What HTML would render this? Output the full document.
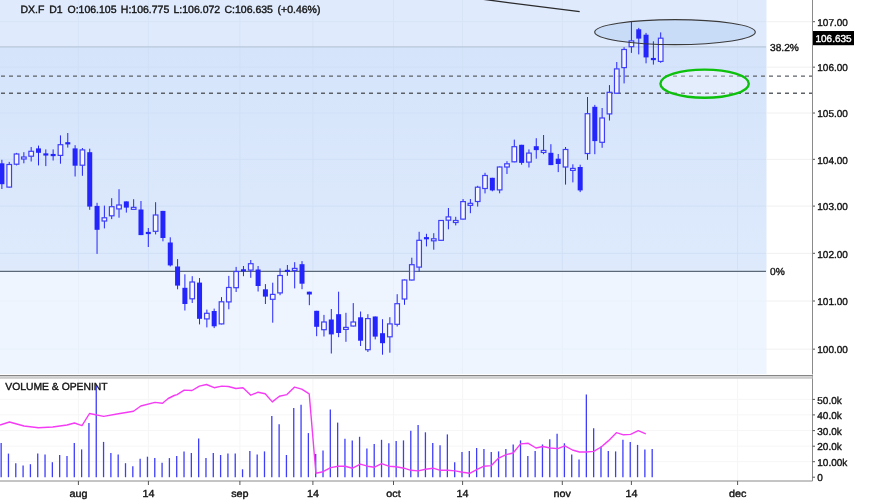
<!DOCTYPE html><html><head><meta charset="utf-8"><style>html,body{margin:0;padding:0;background:#fff;}svg{display:block;will-change:transform;}text{font-family:"Liberation Sans",sans-serif;fill:#141414;stroke:#141414;stroke-width:0.38px;text-rendering:geometricPrecision;}</style></head><body>
<svg width="875" height="503" viewBox="0 0 875 503">
<rect x="0" y="0" width="875" height="503" fill="#ffffff"/>
<rect x="0" y="0" width="766.5" height="46.5" fill="#dfebfd"/>
<defs><linearGradient id="mg" x1="0" y1="0" x2="0" y2="1"><stop offset="0" stop-color="#d5e4fb"/><stop offset="1" stop-color="#deeafc"/></linearGradient></defs>
<rect x="0" y="46.5" width="766.5" height="224.8" fill="url(#mg)"/>
<rect x="0" y="271.3" width="766.5" height="102.7" fill="#eef5fe"/>
<line x1="78.4" y1="0" x2="78.4" y2="46.5" stroke="#d7e4f6" stroke-width="1"/>
<line x1="78.4" y1="46.5" x2="78.4" y2="271.3" stroke="#d1e0f6" stroke-width="1"/>
<line x1="78.4" y1="271.3" x2="78.4" y2="374" stroke="#e8f0fa" stroke-width="1"/>
<line x1="78.4" y1="379" x2="78.4" y2="481" stroke="#f5f5f5" stroke-width="1"/>
<line x1="148.4" y1="0" x2="148.4" y2="46.5" stroke="#d7e4f6" stroke-width="1"/>
<line x1="148.4" y1="46.5" x2="148.4" y2="271.3" stroke="#d1e0f6" stroke-width="1"/>
<line x1="148.4" y1="271.3" x2="148.4" y2="374" stroke="#e8f0fa" stroke-width="1"/>
<line x1="148.4" y1="379" x2="148.4" y2="481" stroke="#f5f5f5" stroke-width="1"/>
<line x1="239.9" y1="0" x2="239.9" y2="46.5" stroke="#d7e4f6" stroke-width="1"/>
<line x1="239.9" y1="46.5" x2="239.9" y2="271.3" stroke="#d1e0f6" stroke-width="1"/>
<line x1="239.9" y1="271.3" x2="239.9" y2="374" stroke="#e8f0fa" stroke-width="1"/>
<line x1="239.9" y1="379" x2="239.9" y2="481" stroke="#f5f5f5" stroke-width="1"/>
<line x1="312.9" y1="0" x2="312.9" y2="46.5" stroke="#d7e4f6" stroke-width="1"/>
<line x1="312.9" y1="46.5" x2="312.9" y2="271.3" stroke="#d1e0f6" stroke-width="1"/>
<line x1="312.9" y1="271.3" x2="312.9" y2="374" stroke="#e8f0fa" stroke-width="1"/>
<line x1="312.9" y1="379" x2="312.9" y2="481" stroke="#f5f5f5" stroke-width="1"/>
<line x1="393.5" y1="0" x2="393.5" y2="46.5" stroke="#d7e4f6" stroke-width="1"/>
<line x1="393.5" y1="46.5" x2="393.5" y2="271.3" stroke="#d1e0f6" stroke-width="1"/>
<line x1="393.5" y1="271.3" x2="393.5" y2="374" stroke="#e8f0fa" stroke-width="1"/>
<line x1="393.5" y1="379" x2="393.5" y2="481" stroke="#f5f5f5" stroke-width="1"/>
<line x1="462.6" y1="0" x2="462.6" y2="46.5" stroke="#d7e4f6" stroke-width="1"/>
<line x1="462.6" y1="46.5" x2="462.6" y2="271.3" stroke="#d1e0f6" stroke-width="1"/>
<line x1="462.6" y1="271.3" x2="462.6" y2="374" stroke="#e8f0fa" stroke-width="1"/>
<line x1="462.6" y1="379" x2="462.6" y2="481" stroke="#f5f5f5" stroke-width="1"/>
<line x1="562.3" y1="0" x2="562.3" y2="46.5" stroke="#d7e4f6" stroke-width="1"/>
<line x1="562.3" y1="46.5" x2="562.3" y2="271.3" stroke="#d1e0f6" stroke-width="1"/>
<line x1="562.3" y1="271.3" x2="562.3" y2="374" stroke="#e8f0fa" stroke-width="1"/>
<line x1="562.3" y1="379" x2="562.3" y2="481" stroke="#f5f5f5" stroke-width="1"/>
<line x1="631.4" y1="0" x2="631.4" y2="46.5" stroke="#d7e4f6" stroke-width="1"/>
<line x1="631.4" y1="46.5" x2="631.4" y2="271.3" stroke="#d1e0f6" stroke-width="1"/>
<line x1="631.4" y1="271.3" x2="631.4" y2="374" stroke="#e8f0fa" stroke-width="1"/>
<line x1="631.4" y1="379" x2="631.4" y2="481" stroke="#f5f5f5" stroke-width="1"/>
<line x1="737.6" y1="0" x2="737.6" y2="46.5" stroke="#d7e4f6" stroke-width="1"/>
<line x1="737.6" y1="46.5" x2="737.6" y2="271.3" stroke="#d1e0f6" stroke-width="1"/>
<line x1="737.6" y1="271.3" x2="737.6" y2="374" stroke="#e8f0fa" stroke-width="1"/>
<line x1="737.6" y1="379" x2="737.6" y2="481" stroke="#f5f5f5" stroke-width="1"/>
<line x1="0" y1="349.17" x2="766" y2="349.17" stroke="#e9f1fb" stroke-width="1"/>
<line x1="766" y1="349.17" x2="812" y2="349.17" stroke="#f0f0f0" stroke-width="1"/>
<line x1="812.5" y1="349.17" x2="815" y2="349.17" stroke="#555" stroke-width="1"/>
<text x="817.3" y="353.37" font-size="10">100.00</text>
<line x1="0" y1="301.01" x2="766" y2="301.01" stroke="#e9f1fb" stroke-width="1"/>
<line x1="766" y1="301.01" x2="812" y2="301.01" stroke="#f0f0f0" stroke-width="1"/>
<line x1="812.5" y1="301.01" x2="815" y2="301.01" stroke="#555" stroke-width="1"/>
<text x="817.3" y="305.21" font-size="10">101.00</text>
<line x1="0" y1="253.32" x2="766" y2="253.32" stroke="#d1e0f6" stroke-width="1"/>
<line x1="766" y1="253.32" x2="812" y2="253.32" stroke="#f0f0f0" stroke-width="1"/>
<line x1="812.5" y1="253.32" x2="815" y2="253.32" stroke="#555" stroke-width="1"/>
<text x="817.3" y="257.52" font-size="10">102.00</text>
<line x1="0" y1="206.1" x2="766" y2="206.1" stroke="#d1e0f6" stroke-width="1"/>
<line x1="766" y1="206.1" x2="812" y2="206.1" stroke="#f0f0f0" stroke-width="1"/>
<line x1="812.5" y1="206.1" x2="815" y2="206.1" stroke="#555" stroke-width="1"/>
<text x="817.3" y="210.3" font-size="10">103.00</text>
<line x1="0" y1="159.34" x2="766" y2="159.34" stroke="#d1e0f6" stroke-width="1"/>
<line x1="766" y1="159.34" x2="812" y2="159.34" stroke="#f0f0f0" stroke-width="1"/>
<line x1="812.5" y1="159.34" x2="815" y2="159.34" stroke="#555" stroke-width="1"/>
<text x="817.3" y="163.54" font-size="10">104.00</text>
<line x1="0" y1="113.02" x2="766" y2="113.02" stroke="#d1e0f6" stroke-width="1"/>
<line x1="766" y1="113.02" x2="812" y2="113.02" stroke="#f0f0f0" stroke-width="1"/>
<line x1="812.5" y1="113.02" x2="815" y2="113.02" stroke="#555" stroke-width="1"/>
<text x="817.3" y="117.22" font-size="10">105.00</text>
<line x1="0" y1="67.15" x2="766" y2="67.15" stroke="#d1e0f6" stroke-width="1"/>
<line x1="766" y1="67.15" x2="812" y2="67.15" stroke="#f0f0f0" stroke-width="1"/>
<line x1="812.5" y1="67.15" x2="815" y2="67.15" stroke="#555" stroke-width="1"/>
<text x="817.3" y="71.35" font-size="10">106.00</text>
<line x1="0" y1="21.7" x2="766" y2="21.7" stroke="#d7e4f6" stroke-width="1"/>
<line x1="766" y1="21.7" x2="812" y2="21.7" stroke="#f0f0f0" stroke-width="1"/>
<line x1="812.5" y1="21.7" x2="815" y2="21.7" stroke="#555" stroke-width="1"/>
<text x="817.3" y="25.9" font-size="10">107.00</text>
<line x1="0" y1="46.8" x2="766" y2="46.8" stroke="#b8c7da" stroke-width="1.35"/>
<line x1="0" y1="270.1" x2="766" y2="270.1" stroke="#e4eefc" stroke-width="1"/>
<line x1="0" y1="271.4" x2="766" y2="271.4" stroke="#5a6877" stroke-width="1.2"/>
<text x="770" y="51" font-size="10.2">38.2%</text>
<text x="770" y="275.3" font-size="10.2">0%</text>
<line x1="0" y1="76.1" x2="812" y2="76.1" stroke="#5c6067" stroke-width="1.4" stroke-dasharray="4 4" stroke-dashoffset="-1"/>
<line x1="0" y1="93.2" x2="812" y2="93.2" stroke="#5c6067" stroke-width="1.4" stroke-dasharray="4 4" stroke-dashoffset="-1"/>
<ellipse cx="704.6" cy="83.7" rx="44.2" ry="14.1" fill="rgba(255,255,255,0.32)" stroke="#0cc00c" stroke-width="2.4"/>
<ellipse cx="675" cy="32.1" rx="80.3" ry="12.5" fill="#c9dcf7"/>
<line x1="1.9" y1="159.8" x2="1.9" y2="189" stroke="#2424fc" stroke-width="1"/>
<rect x="-0.6" y="163.3" width="5" height="20.9" fill="#2424fc"/>
<line x1="9.22" y1="161.9" x2="9.22" y2="164.5" stroke="#2424fc" stroke-width="1"/>
<line x1="9.22" y1="187.1" x2="9.22" y2="187.6" stroke="#2424fc" stroke-width="1"/>
<rect x="6.92" y="164.5" width="4.6" height="22.6" fill="rgba(255,255,255,0.72)" stroke="#3e3efb" stroke-width="1.2"/>
<line x1="16.54" y1="152.9" x2="16.54" y2="154" stroke="#2424fc" stroke-width="1"/>
<line x1="16.54" y1="164.2" x2="16.54" y2="165.4" stroke="#2424fc" stroke-width="1"/>
<rect x="14.24" y="154" width="4.6" height="10.2" fill="rgba(255,255,255,0.72)" stroke="#3e3efb" stroke-width="1.2"/>
<line x1="23.86" y1="152.2" x2="23.86" y2="157" stroke="#2424fc" stroke-width="1"/>
<line x1="23.86" y1="159" x2="23.86" y2="163.3" stroke="#2424fc" stroke-width="1"/>
<rect x="21.56" y="157" width="4.6" height="2" fill="rgba(255,255,255,0.72)" stroke="#3e3efb" stroke-width="1.2"/>
<line x1="31.18" y1="147" x2="31.18" y2="151.3" stroke="#2424fc" stroke-width="1"/>
<line x1="31.18" y1="156.2" x2="31.18" y2="161.5" stroke="#2424fc" stroke-width="1"/>
<rect x="28.88" y="151.3" width="4.6" height="4.9" fill="rgba(255,255,255,0.72)" stroke="#3e3efb" stroke-width="1.2"/>
<line x1="38.5" y1="145.6" x2="38.5" y2="165.4" stroke="#2424fc" stroke-width="1"/>
<rect x="36" y="148.4" width="5" height="4.4" fill="#2424fc"/>
<line x1="45.82" y1="149.4" x2="45.82" y2="166.1" stroke="#2424fc" stroke-width="1"/>
<rect x="43.32" y="153.35" width="5" height="2.2" fill="#2424fc"/>
<line x1="53.14" y1="149.4" x2="53.14" y2="160.5" stroke="#2424fc" stroke-width="1"/>
<rect x="50.64" y="153.95" width="5" height="2.2" fill="#2424fc"/>
<line x1="60.46" y1="135.4" x2="60.46" y2="144.7" stroke="#2424fc" stroke-width="1"/>
<line x1="60.46" y1="155.4" x2="60.46" y2="163.7" stroke="#2424fc" stroke-width="1"/>
<rect x="58.16" y="144.7" width="4.6" height="10.7" fill="rgba(255,255,255,0.72)" stroke="#3e3efb" stroke-width="1.2"/>
<line x1="67.78" y1="133" x2="67.78" y2="147.6" stroke="#2424fc" stroke-width="1"/>
<rect x="65.28" y="142.2" width="5" height="2.2" fill="#2424fc"/>
<line x1="75.1" y1="145.2" x2="75.1" y2="176.5" stroke="#2424fc" stroke-width="1"/>
<rect x="72.6" y="148.4" width="5" height="17.3" fill="#2424fc"/>
<line x1="82.42" y1="148" x2="82.42" y2="149.9" stroke="#2424fc" stroke-width="1"/>
<line x1="82.42" y1="165.2" x2="82.42" y2="175.8" stroke="#2424fc" stroke-width="1"/>
<rect x="80.12" y="149.9" width="4.6" height="15.3" fill="rgba(255,255,255,0.72)" stroke="#3e3efb" stroke-width="1.2"/>
<line x1="89.74" y1="148.7" x2="89.74" y2="209.8" stroke="#2424fc" stroke-width="1"/>
<rect x="87.24" y="152.2" width="5" height="54.4" fill="#2424fc"/>
<line x1="97.06" y1="202.8" x2="97.06" y2="253.9" stroke="#2424fc" stroke-width="1"/>
<rect x="94.56" y="205.9" width="5" height="23.9" fill="#2424fc"/>
<line x1="104.38" y1="205.6" x2="104.38" y2="217.8" stroke="#2424fc" stroke-width="1"/>
<line x1="104.38" y1="221" x2="104.38" y2="228.4" stroke="#2424fc" stroke-width="1"/>
<rect x="102.08" y="217.8" width="4.6" height="3.2" fill="rgba(255,255,255,0.72)" stroke="#3e3efb" stroke-width="1.2"/>
<line x1="111.7" y1="198.2" x2="111.7" y2="206.7" stroke="#2424fc" stroke-width="1"/>
<line x1="111.7" y1="215.8" x2="111.7" y2="219.1" stroke="#2424fc" stroke-width="1"/>
<rect x="109.4" y="206.7" width="4.6" height="9.1" fill="rgba(255,255,255,0.72)" stroke="#3e3efb" stroke-width="1.2"/>
<line x1="119.02" y1="189.2" x2="119.02" y2="205" stroke="#2424fc" stroke-width="1"/>
<line x1="119.02" y1="208.9" x2="119.02" y2="217.7" stroke="#2424fc" stroke-width="1"/>
<rect x="116.72" y="205" width="4.6" height="3.9" fill="rgba(255,255,255,0.72)" stroke="#3e3efb" stroke-width="1.2"/>
<line x1="126.34" y1="201.4" x2="126.34" y2="212.6" stroke="#2424fc" stroke-width="1"/>
<rect x="123.84" y="201.4" width="5" height="6.2" fill="#2424fc"/>
<line x1="133.66" y1="199.2" x2="133.66" y2="207.35" stroke="#2424fc" stroke-width="1"/>
<line x1="133.66" y1="209.35" x2="133.66" y2="209.4" stroke="#2424fc" stroke-width="1"/>
<rect x="131.36" y="207.35" width="4.6" height="2" fill="rgba(255,255,255,0.72)" stroke="#3e3efb" stroke-width="1.2"/>
<line x1="140.98" y1="201" x2="140.98" y2="235.1" stroke="#2424fc" stroke-width="1"/>
<rect x="138.48" y="209.5" width="5" height="25.6" fill="#2424fc"/>
<line x1="148.3" y1="228" x2="148.3" y2="247" stroke="#2424fc" stroke-width="1"/>
<rect x="145.8" y="231.9" width="5" height="2.2" fill="#2424fc"/>
<line x1="155.62" y1="202.2" x2="155.62" y2="215" stroke="#2424fc" stroke-width="1"/>
<line x1="155.62" y1="231.3" x2="155.62" y2="234.4" stroke="#2424fc" stroke-width="1"/>
<rect x="153.32" y="215" width="4.6" height="16.3" fill="rgba(255,255,255,0.72)" stroke="#3e3efb" stroke-width="1.2"/>
<line x1="162.94" y1="210.9" x2="162.94" y2="241.3" stroke="#2424fc" stroke-width="1"/>
<rect x="160.44" y="210.9" width="5" height="27.1" fill="#2424fc"/>
<line x1="170.26" y1="237.3" x2="170.26" y2="266.5" stroke="#2424fc" stroke-width="1"/>
<rect x="167.76" y="242.5" width="5" height="22.9" fill="#2424fc"/>
<line x1="177.58" y1="259.1" x2="177.58" y2="289.3" stroke="#2424fc" stroke-width="1"/>
<rect x="175.08" y="266.5" width="5" height="19.1" fill="#2424fc"/>
<line x1="184.9" y1="274.3" x2="184.9" y2="310.5" stroke="#2424fc" stroke-width="1"/>
<rect x="182.4" y="287.8" width="5" height="16.2" fill="#2424fc"/>
<line x1="192.22" y1="276.2" x2="192.22" y2="282" stroke="#2424fc" stroke-width="1"/>
<line x1="192.22" y1="298.8" x2="192.22" y2="303" stroke="#2424fc" stroke-width="1"/>
<rect x="189.92" y="282" width="4.6" height="16.8" fill="rgba(255,255,255,0.72)" stroke="#3e3efb" stroke-width="1.2"/>
<line x1="199.54" y1="278" x2="199.54" y2="324.4" stroke="#2424fc" stroke-width="1"/>
<rect x="197.04" y="282.6" width="5" height="36.2" fill="#2424fc"/>
<line x1="206.86" y1="309.6" x2="206.86" y2="313.3" stroke="#2424fc" stroke-width="1"/>
<line x1="206.86" y1="318.9" x2="206.86" y2="327.4" stroke="#2424fc" stroke-width="1"/>
<rect x="204.56" y="313.3" width="4.6" height="5.6" fill="rgba(255,255,255,0.72)" stroke="#3e3efb" stroke-width="1.2"/>
<line x1="214.18" y1="308.6" x2="214.18" y2="328.1" stroke="#2424fc" stroke-width="1"/>
<rect x="211.68" y="311" width="5" height="15.3" fill="#2424fc"/>
<line x1="221.5" y1="297.1" x2="221.5" y2="301.8" stroke="#2424fc" stroke-width="1"/>
<line x1="221.5" y1="323.9" x2="221.5" y2="324.4" stroke="#2424fc" stroke-width="1"/>
<rect x="219.2" y="301.8" width="4.6" height="22.1" fill="rgba(255,255,255,0.72)" stroke="#3e3efb" stroke-width="1.2"/>
<line x1="228.82" y1="275.9" x2="228.82" y2="287.5" stroke="#2424fc" stroke-width="1"/>
<line x1="228.82" y1="301.9" x2="228.82" y2="309.3" stroke="#2424fc" stroke-width="1"/>
<rect x="226.52" y="287.5" width="4.6" height="14.4" fill="rgba(255,255,255,0.72)" stroke="#3e3efb" stroke-width="1.2"/>
<line x1="236.14" y1="266.9" x2="236.14" y2="271.5" stroke="#2424fc" stroke-width="1"/>
<line x1="236.14" y1="287.7" x2="236.14" y2="292" stroke="#2424fc" stroke-width="1"/>
<rect x="233.84" y="271.5" width="4.6" height="16.2" fill="rgba(255,255,255,0.72)" stroke="#3e3efb" stroke-width="1.2"/>
<line x1="243.46" y1="266" x2="243.46" y2="276.2" stroke="#2424fc" stroke-width="1"/>
<rect x="240.96" y="269.25" width="5" height="2.2" fill="#2424fc"/>
<line x1="250.78" y1="260" x2="250.78" y2="263.7" stroke="#2424fc" stroke-width="1"/>
<line x1="250.78" y1="270.1" x2="250.78" y2="277.8" stroke="#2424fc" stroke-width="1"/>
<rect x="248.48" y="263.7" width="4.6" height="6.4" fill="rgba(255,255,255,0.72)" stroke="#3e3efb" stroke-width="1.2"/>
<line x1="258.1" y1="266" x2="258.1" y2="291.5" stroke="#2424fc" stroke-width="1"/>
<rect x="255.6" y="269.5" width="5" height="16.5" fill="#2424fc"/>
<line x1="265.42" y1="284.1" x2="265.42" y2="304" stroke="#2424fc" stroke-width="1"/>
<rect x="262.92" y="289.3" width="5" height="7.3" fill="#2424fc"/>
<line x1="272.74" y1="282.7" x2="272.74" y2="294.4" stroke="#2424fc" stroke-width="1"/>
<line x1="272.74" y1="299.3" x2="272.74" y2="322.7" stroke="#2424fc" stroke-width="1"/>
<rect x="270.44" y="294.4" width="4.6" height="4.9" fill="rgba(255,255,255,0.72)" stroke="#3e3efb" stroke-width="1.2"/>
<line x1="280.06" y1="268.4" x2="280.06" y2="275.5" stroke="#2424fc" stroke-width="1"/>
<line x1="280.06" y1="292.9" x2="280.06" y2="295.2" stroke="#2424fc" stroke-width="1"/>
<rect x="277.76" y="275.5" width="4.6" height="17.4" fill="rgba(255,255,255,0.72)" stroke="#3e3efb" stroke-width="1.2"/>
<line x1="287.38" y1="265" x2="287.38" y2="275.8" stroke="#2424fc" stroke-width="1"/>
<rect x="284.88" y="269.8" width="5" height="2.2" fill="#2424fc"/>
<line x1="294.7" y1="262.2" x2="294.7" y2="268.4" stroke="#2424fc" stroke-width="1"/>
<line x1="294.7" y1="270.4" x2="294.7" y2="288.4" stroke="#2424fc" stroke-width="1"/>
<rect x="292.4" y="268.4" width="4.6" height="2" fill="rgba(255,255,255,0.72)" stroke="#3e3efb" stroke-width="1.2"/>
<line x1="302.02" y1="261.1" x2="302.02" y2="289.2" stroke="#2424fc" stroke-width="1"/>
<rect x="299.52" y="264.2" width="5" height="19.5" fill="#2424fc"/>
<line x1="309.34" y1="291.7" x2="309.34" y2="305.2" stroke="#2424fc" stroke-width="1"/>
<rect x="306.84" y="291.7" width="5" height="2.8" fill="#2424fc"/>
<line x1="316.66" y1="310.8" x2="316.66" y2="336.2" stroke="#2424fc" stroke-width="1"/>
<rect x="314.16" y="310.8" width="5" height="16" fill="#2424fc"/>
<line x1="323.98" y1="314.9" x2="323.98" y2="322" stroke="#2424fc" stroke-width="1"/>
<line x1="323.98" y1="329.7" x2="323.98" y2="336.5" stroke="#2424fc" stroke-width="1"/>
<rect x="321.68" y="322" width="4.6" height="7.7" fill="rgba(255,255,255,0.72)" stroke="#3e3efb" stroke-width="1.2"/>
<line x1="331.3" y1="309" x2="331.3" y2="353.5" stroke="#2424fc" stroke-width="1"/>
<rect x="328.8" y="319.5" width="5" height="14.9" fill="#2424fc"/>
<line x1="338.62" y1="291.7" x2="338.62" y2="337.2" stroke="#2424fc" stroke-width="1"/>
<rect x="336.12" y="314.2" width="5" height="18.8" fill="#2424fc"/>
<line x1="345.94" y1="312.8" x2="345.94" y2="327.4" stroke="#2424fc" stroke-width="1"/>
<line x1="345.94" y1="329.4" x2="345.94" y2="341.8" stroke="#2424fc" stroke-width="1"/>
<rect x="343.64" y="327.4" width="4.6" height="2" fill="rgba(255,255,255,0.72)" stroke="#3e3efb" stroke-width="1.2"/>
<line x1="353.26" y1="303.1" x2="353.26" y2="322" stroke="#2424fc" stroke-width="1"/>
<line x1="353.26" y1="326" x2="353.26" y2="326.5" stroke="#2424fc" stroke-width="1"/>
<rect x="350.96" y="322" width="4.6" height="4" fill="rgba(255,255,255,0.72)" stroke="#3e3efb" stroke-width="1.2"/>
<line x1="360.58" y1="311.5" x2="360.58" y2="346" stroke="#2424fc" stroke-width="1"/>
<rect x="358.08" y="317.3" width="5" height="23.4" fill="#2424fc"/>
<line x1="367.9" y1="314.2" x2="367.9" y2="318.6" stroke="#2424fc" stroke-width="1"/>
<line x1="367.9" y1="349.7" x2="367.9" y2="352" stroke="#2424fc" stroke-width="1"/>
<rect x="365.6" y="318.6" width="4.6" height="31.1" fill="rgba(255,255,255,0.72)" stroke="#3e3efb" stroke-width="1.2"/>
<line x1="375.22" y1="316.5" x2="375.22" y2="339.4" stroke="#2424fc" stroke-width="1"/>
<rect x="372.72" y="316.5" width="5" height="20.1" fill="#2424fc"/>
<line x1="382.54" y1="319.2" x2="382.54" y2="354.7" stroke="#2424fc" stroke-width="1"/>
<rect x="380.04" y="333.2" width="5" height="10" fill="#2424fc"/>
<line x1="389.86" y1="317.2" x2="389.86" y2="323.9" stroke="#2424fc" stroke-width="1"/>
<line x1="389.86" y1="336.8" x2="389.86" y2="352.7" stroke="#2424fc" stroke-width="1"/>
<rect x="387.56" y="323.9" width="4.6" height="12.9" fill="rgba(255,255,255,0.72)" stroke="#3e3efb" stroke-width="1.2"/>
<line x1="397.18" y1="294.2" x2="397.18" y2="303.7" stroke="#2424fc" stroke-width="1"/>
<line x1="397.18" y1="324.3" x2="397.18" y2="326.5" stroke="#2424fc" stroke-width="1"/>
<rect x="394.88" y="303.7" width="4.6" height="20.6" fill="rgba(255,255,255,0.72)" stroke="#3e3efb" stroke-width="1.2"/>
<line x1="404.5" y1="279.5" x2="404.5" y2="280" stroke="#2424fc" stroke-width="1"/>
<line x1="404.5" y1="299" x2="404.5" y2="304.8" stroke="#2424fc" stroke-width="1"/>
<rect x="402.2" y="280" width="4.6" height="19" fill="rgba(255,255,255,0.72)" stroke="#3e3efb" stroke-width="1.2"/>
<line x1="411.82" y1="257.7" x2="411.82" y2="264.7" stroke="#2424fc" stroke-width="1"/>
<line x1="411.82" y1="280" x2="411.82" y2="280.5" stroke="#2424fc" stroke-width="1"/>
<rect x="409.52" y="264.7" width="4.6" height="15.3" fill="rgba(255,255,255,0.72)" stroke="#3e3efb" stroke-width="1.2"/>
<line x1="419.14" y1="231.8" x2="419.14" y2="240.3" stroke="#2424fc" stroke-width="1"/>
<line x1="419.14" y1="267.1" x2="419.14" y2="271.6" stroke="#2424fc" stroke-width="1"/>
<rect x="416.84" y="240.3" width="4.6" height="26.8" fill="rgba(255,255,255,0.72)" stroke="#3e3efb" stroke-width="1.2"/>
<line x1="426.46" y1="233.8" x2="426.46" y2="246.4" stroke="#2424fc" stroke-width="1"/>
<rect x="423.96" y="237.1" width="5" height="2.2" fill="#2424fc"/>
<line x1="433.78" y1="233.2" x2="433.78" y2="238.8" stroke="#2424fc" stroke-width="1"/>
<line x1="433.78" y1="240.8" x2="433.78" y2="249.7" stroke="#2424fc" stroke-width="1"/>
<rect x="431.48" y="238.8" width="4.6" height="2" fill="rgba(255,255,255,0.72)" stroke="#3e3efb" stroke-width="1.2"/>
<line x1="441.1" y1="220" x2="441.1" y2="220.5" stroke="#2424fc" stroke-width="1"/>
<line x1="441.1" y1="240.3" x2="441.1" y2="240.8" stroke="#2424fc" stroke-width="1"/>
<rect x="438.8" y="220.5" width="4.6" height="19.8" fill="rgba(255,255,255,0.72)" stroke="#3e3efb" stroke-width="1.2"/>
<line x1="448.42" y1="208" x2="448.42" y2="216.9" stroke="#2424fc" stroke-width="1"/>
<line x1="448.42" y1="220.2" x2="448.42" y2="229.3" stroke="#2424fc" stroke-width="1"/>
<rect x="446.12" y="216.9" width="4.6" height="3.3" fill="rgba(255,255,255,0.72)" stroke="#3e3efb" stroke-width="1.2"/>
<line x1="455.74" y1="216.8" x2="455.74" y2="220.5" stroke="#2424fc" stroke-width="1"/>
<line x1="455.74" y1="222.5" x2="455.74" y2="225.4" stroke="#2424fc" stroke-width="1"/>
<rect x="453.44" y="220.5" width="4.6" height="2" fill="rgba(255,255,255,0.72)" stroke="#3e3efb" stroke-width="1.2"/>
<line x1="463.06" y1="199" x2="463.06" y2="201.6" stroke="#2424fc" stroke-width="1"/>
<line x1="463.06" y1="219.1" x2="463.06" y2="219.6" stroke="#2424fc" stroke-width="1"/>
<rect x="460.76" y="201.6" width="4.6" height="17.5" fill="rgba(255,255,255,0.72)" stroke="#3e3efb" stroke-width="1.2"/>
<line x1="470.38" y1="199" x2="470.38" y2="203.35" stroke="#2424fc" stroke-width="1"/>
<line x1="470.38" y1="205.35" x2="470.38" y2="213.2" stroke="#2424fc" stroke-width="1"/>
<rect x="468.08" y="203.35" width="4.6" height="2" fill="rgba(255,255,255,0.72)" stroke="#3e3efb" stroke-width="1.2"/>
<line x1="477.7" y1="185.8" x2="477.7" y2="187.2" stroke="#2424fc" stroke-width="1"/>
<line x1="477.7" y1="201.5" x2="477.7" y2="206.6" stroke="#2424fc" stroke-width="1"/>
<rect x="475.4" y="187.2" width="4.6" height="14.3" fill="rgba(255,255,255,0.72)" stroke="#3e3efb" stroke-width="1.2"/>
<line x1="485.02" y1="172.8" x2="485.02" y2="175.5" stroke="#2424fc" stroke-width="1"/>
<line x1="485.02" y1="188.5" x2="485.02" y2="193.4" stroke="#2424fc" stroke-width="1"/>
<rect x="482.72" y="175.5" width="4.6" height="13" fill="rgba(255,255,255,0.72)" stroke="#3e3efb" stroke-width="1.2"/>
<line x1="492.34" y1="177.8" x2="492.34" y2="191.3" stroke="#2424fc" stroke-width="1"/>
<rect x="489.84" y="177.8" width="5" height="12.6" fill="#2424fc"/>
<line x1="499.66" y1="166.5" x2="499.66" y2="167" stroke="#2424fc" stroke-width="1"/>
<line x1="499.66" y1="189.9" x2="499.66" y2="193.3" stroke="#2424fc" stroke-width="1"/>
<rect x="497.36" y="167" width="4.6" height="22.9" fill="rgba(255,255,255,0.72)" stroke="#3e3efb" stroke-width="1.2"/>
<line x1="506.98" y1="161.2" x2="506.98" y2="163.8" stroke="#2424fc" stroke-width="1"/>
<line x1="506.98" y1="167" x2="506.98" y2="174" stroke="#2424fc" stroke-width="1"/>
<rect x="504.68" y="163.8" width="4.6" height="3.2" fill="rgba(255,255,255,0.72)" stroke="#3e3efb" stroke-width="1.2"/>
<line x1="514.3" y1="139.6" x2="514.3" y2="146.7" stroke="#2424fc" stroke-width="1"/>
<line x1="514.3" y1="161.8" x2="514.3" y2="162.3" stroke="#2424fc" stroke-width="1"/>
<rect x="512" y="146.7" width="4.6" height="15.1" fill="rgba(255,255,255,0.72)" stroke="#3e3efb" stroke-width="1.2"/>
<line x1="521.62" y1="144.8" x2="521.62" y2="164.7" stroke="#2424fc" stroke-width="1"/>
<rect x="519.12" y="144.8" width="5" height="18.1" fill="#2424fc"/>
<line x1="528.94" y1="149.4" x2="528.94" y2="153.1" stroke="#2424fc" stroke-width="1"/>
<line x1="528.94" y1="162.1" x2="528.94" y2="167.5" stroke="#2424fc" stroke-width="1"/>
<rect x="526.64" y="153.1" width="4.6" height="9" fill="rgba(255,255,255,0.72)" stroke="#3e3efb" stroke-width="1.2"/>
<line x1="536.26" y1="138.2" x2="536.26" y2="158.7" stroke="#2424fc" stroke-width="1"/>
<rect x="533.76" y="146.2" width="5" height="3.9" fill="#2424fc"/>
<line x1="543.58" y1="135" x2="543.58" y2="150.45" stroke="#2424fc" stroke-width="1"/>
<line x1="543.58" y1="152.45" x2="543.58" y2="154.2" stroke="#2424fc" stroke-width="1"/>
<rect x="541.28" y="150.45" width="4.6" height="2" fill="rgba(255,255,255,0.72)" stroke="#3e3efb" stroke-width="1.2"/>
<line x1="550.9" y1="144.2" x2="550.9" y2="165.1" stroke="#2424fc" stroke-width="1"/>
<rect x="548.4" y="152.8" width="5" height="12.3" fill="#2424fc"/>
<line x1="558.22" y1="154" x2="558.22" y2="172.1" stroke="#2424fc" stroke-width="1"/>
<rect x="555.72" y="158.7" width="5" height="5.3" fill="#2424fc"/>
<line x1="565.54" y1="147" x2="565.54" y2="149.5" stroke="#2424fc" stroke-width="1"/>
<line x1="565.54" y1="167" x2="565.54" y2="184.6" stroke="#2424fc" stroke-width="1"/>
<rect x="563.24" y="149.5" width="4.6" height="17.5" fill="rgba(255,255,255,0.72)" stroke="#3e3efb" stroke-width="1.2"/>
<line x1="572.86" y1="164.3" x2="572.86" y2="168.4" stroke="#2424fc" stroke-width="1"/>
<line x1="572.86" y1="170.4" x2="572.86" y2="182.4" stroke="#2424fc" stroke-width="1"/>
<rect x="570.56" y="168.4" width="4.6" height="2" fill="rgba(255,255,255,0.72)" stroke="#3e3efb" stroke-width="1.2"/>
<line x1="580.18" y1="164.7" x2="580.18" y2="192.1" stroke="#2424fc" stroke-width="1"/>
<rect x="577.68" y="167" width="5" height="23.4" fill="#2424fc"/>
<line x1="587.5" y1="97" x2="587.5" y2="113.7" stroke="#2424fc" stroke-width="1"/>
<line x1="587.5" y1="153.5" x2="587.5" y2="159.8" stroke="#2424fc" stroke-width="1"/>
<rect x="585.2" y="113.7" width="4.6" height="39.8" fill="rgba(255,255,255,0.72)" stroke="#3e3efb" stroke-width="1.2"/>
<line x1="594.82" y1="104.9" x2="594.82" y2="154.2" stroke="#2424fc" stroke-width="1"/>
<rect x="592.32" y="106.8" width="5" height="34.3" fill="#2424fc"/>
<line x1="602.14" y1="108" x2="602.14" y2="118" stroke="#2424fc" stroke-width="1"/>
<line x1="602.14" y1="142.3" x2="602.14" y2="147.8" stroke="#2424fc" stroke-width="1"/>
<rect x="599.84" y="118" width="4.6" height="24.3" fill="rgba(255,255,255,0.72)" stroke="#3e3efb" stroke-width="1.2"/>
<line x1="609.46" y1="85.1" x2="609.46" y2="92.3" stroke="#2424fc" stroke-width="1"/>
<line x1="609.46" y1="113.9" x2="609.46" y2="120.5" stroke="#2424fc" stroke-width="1"/>
<rect x="607.16" y="92.3" width="4.6" height="21.6" fill="rgba(255,255,255,0.72)" stroke="#3e3efb" stroke-width="1.2"/>
<line x1="616.78" y1="62" x2="616.78" y2="68.9" stroke="#2424fc" stroke-width="1"/>
<line x1="616.78" y1="93.2" x2="616.78" y2="93.7" stroke="#2424fc" stroke-width="1"/>
<rect x="614.48" y="68.9" width="4.6" height="24.3" fill="rgba(255,255,255,0.72)" stroke="#3e3efb" stroke-width="1.2"/>
<line x1="624.1" y1="47.2" x2="624.1" y2="49.5" stroke="#2424fc" stroke-width="1"/>
<line x1="624.1" y1="67.6" x2="624.1" y2="83.4" stroke="#2424fc" stroke-width="1"/>
<rect x="621.8" y="49.5" width="4.6" height="18.1" fill="rgba(255,255,255,0.72)" stroke="#3e3efb" stroke-width="1.2"/>
<line x1="631.42" y1="21.6" x2="631.42" y2="40.9" stroke="#2424fc" stroke-width="1"/>
<line x1="631.42" y1="46.7" x2="631.42" y2="52.9" stroke="#2424fc" stroke-width="1"/>
<rect x="629.12" y="40.9" width="4.6" height="5.8" fill="rgba(255,255,255,0.72)" stroke="#3e3efb" stroke-width="1.2"/>
<line x1="638.74" y1="27.9" x2="638.74" y2="54.4" stroke="#2424fc" stroke-width="1"/>
<rect x="636.24" y="29.3" width="5" height="9.3" fill="#2424fc"/>
<line x1="646.06" y1="32.9" x2="646.06" y2="63.3" stroke="#2424fc" stroke-width="1"/>
<rect x="643.56" y="34.7" width="5" height="22.7" fill="#2424fc"/>
<line x1="653.38" y1="41.3" x2="653.38" y2="64.6" stroke="#2424fc" stroke-width="1"/>
<rect x="650.88" y="57.95" width="5" height="2.2" fill="#2424fc"/>
<line x1="660.7" y1="32.4" x2="660.7" y2="38.2" stroke="#2424fc" stroke-width="1"/>
<line x1="660.7" y1="61.4" x2="660.7" y2="62.8" stroke="#2424fc" stroke-width="1"/>
<rect x="658.4" y="38.2" width="4.6" height="23.2" fill="rgba(255,255,255,0.72)" stroke="#3e3efb" stroke-width="1.2"/>
<ellipse cx="675" cy="32.1" rx="80.3" ry="12.5" fill="none" stroke="#3a3a3a" stroke-width="1.1"/>
<line x1="470" y1="-2.35" x2="579.7" y2="11.7" stroke="#2a2a2a" stroke-width="1.25"/>
<text x="20.5" y="12.7" font-size="10.5">DX.F</text>
<text x="49.2" y="12.7" font-size="10.5">D1</text>
<text x="67.5" y="12.7" font-size="10.5">O:106.105</text>
<text x="120.8" y="12.7" font-size="10.5">H:106.775</text>
<text x="173.5" y="12.7" font-size="10.5">L:106.072</text>
<text x="224.5" y="12.7" font-size="10.5">C:106.635</text>
<text x="277.5" y="12.7" font-size="10.5">(+0.46%)</text>
<line x1="812.5" y1="0" x2="812.5" y2="481" stroke="#8a8a8a" stroke-width="1"/>
<rect x="813" y="31" width="41" height="14.2" fill="#000"/>
<text x="815.5" y="41.7" font-size="10" style="fill:#fff;stroke:#fff">106.635</text>
<rect x="0" y="374" width="812.5" height="1" fill="#ffffff"/>
<rect x="0" y="375" width="812.5" height="1" fill="#858585"/>
<rect x="0" y="376.2" width="812.5" height="2.6" fill="#cdcdcd"/>
<line x1="0" y1="399.4" x2="812" y2="399.4" stroke="#f6f6f6" stroke-width="1"/>
<line x1="812.5" y1="399.4" x2="815" y2="399.4" stroke="#555" stroke-width="1"/>
<text x="817.3" y="403.5" font-size="10">50.0k</text>
<line x1="0" y1="414.9" x2="812" y2="414.9" stroke="#f6f6f6" stroke-width="1"/>
<line x1="812.5" y1="414.9" x2="815" y2="414.9" stroke="#555" stroke-width="1"/>
<text x="817.3" y="419" font-size="10">40.0k</text>
<line x1="0" y1="430.6" x2="812" y2="430.6" stroke="#f6f6f6" stroke-width="1"/>
<line x1="812.5" y1="430.6" x2="815" y2="430.6" stroke="#555" stroke-width="1"/>
<text x="817.3" y="434.7" font-size="10">30.0k</text>
<line x1="0" y1="446.2" x2="812" y2="446.2" stroke="#f6f6f6" stroke-width="1"/>
<line x1="812.5" y1="446.2" x2="815" y2="446.2" stroke="#555" stroke-width="1"/>
<text x="817.3" y="450.3" font-size="10">20.0k</text>
<line x1="0" y1="461.7" x2="812" y2="461.7" stroke="#f6f6f6" stroke-width="1"/>
<line x1="812.5" y1="461.7" x2="815" y2="461.7" stroke="#555" stroke-width="1"/>
<text x="817.3" y="465.8" font-size="10">10.00k</text>
<line x1="812.5" y1="477.2" x2="815" y2="477.2" stroke="#555" stroke-width="1"/>
<text x="817.3" y="481.3" font-size="10">0</text>
<line x1="1.15" y1="442.9" x2="1.15" y2="477.2" stroke="#3d3dfa" stroke-width="1.3"/>
<line x1="8.46" y1="453.6" x2="8.46" y2="477.2" stroke="#3d3dfa" stroke-width="1.3"/>
<line x1="15.78" y1="463.2" x2="15.78" y2="477.2" stroke="#3d3dfa" stroke-width="1.3"/>
<line x1="23.09" y1="465.6" x2="23.09" y2="477.2" stroke="#3d3dfa" stroke-width="1.3"/>
<line x1="30.41" y1="464.2" x2="30.41" y2="477.2" stroke="#3d3dfa" stroke-width="1.3"/>
<line x1="37.73" y1="453.6" x2="37.73" y2="477.2" stroke="#3d3dfa" stroke-width="1.3"/>
<line x1="45.04" y1="454.6" x2="45.04" y2="477.2" stroke="#3d3dfa" stroke-width="1.3"/>
<line x1="52.36" y1="462.2" x2="52.36" y2="477.2" stroke="#3d3dfa" stroke-width="1.3"/>
<line x1="59.67" y1="455" x2="59.67" y2="477.2" stroke="#3d3dfa" stroke-width="1.3"/>
<line x1="66.99" y1="456" x2="66.99" y2="477.2" stroke="#3d3dfa" stroke-width="1.3"/>
<line x1="74.3" y1="442.9" x2="74.3" y2="477.2" stroke="#3d3dfa" stroke-width="1.3"/>
<line x1="81.62" y1="449.4" x2="81.62" y2="477.2" stroke="#3d3dfa" stroke-width="1.3"/>
<line x1="88.93" y1="423" x2="88.93" y2="477.2" stroke="#3d3dfa" stroke-width="1.3"/>
<line x1="96.25" y1="385" x2="96.25" y2="477.2" stroke="#3d3dfa" stroke-width="1.3"/>
<line x1="103.56" y1="441.9" x2="103.56" y2="477.2" stroke="#3d3dfa" stroke-width="1.3"/>
<line x1="110.88" y1="453" x2="110.88" y2="477.2" stroke="#3d3dfa" stroke-width="1.3"/>
<line x1="118.19" y1="454.6" x2="118.19" y2="477.2" stroke="#3d3dfa" stroke-width="1.3"/>
<line x1="125.51" y1="463.2" x2="125.51" y2="477.2" stroke="#3d3dfa" stroke-width="1.3"/>
<line x1="132.82" y1="466.2" x2="132.82" y2="477.2" stroke="#3d3dfa" stroke-width="1.3"/>
<line x1="140.14" y1="458.7" x2="140.14" y2="477.2" stroke="#3d3dfa" stroke-width="1.3"/>
<line x1="147.45" y1="456.7" x2="147.45" y2="477.2" stroke="#3d3dfa" stroke-width="1.3"/>
<line x1="154.77" y1="458.1" x2="154.77" y2="477.2" stroke="#3d3dfa" stroke-width="1.3"/>
<line x1="162.08" y1="462.8" x2="162.08" y2="477.2" stroke="#3d3dfa" stroke-width="1.3"/>
<line x1="169.4" y1="458.1" x2="169.4" y2="477.2" stroke="#3d3dfa" stroke-width="1.3"/>
<line x1="176.71" y1="456" x2="176.71" y2="477.2" stroke="#3d3dfa" stroke-width="1.3"/>
<line x1="184.03" y1="451.4" x2="184.03" y2="477.2" stroke="#3d3dfa" stroke-width="1.3"/>
<line x1="191.34" y1="453" x2="191.34" y2="477.2" stroke="#3d3dfa" stroke-width="1.3"/>
<line x1="198.66" y1="438.4" x2="198.66" y2="477.2" stroke="#3d3dfa" stroke-width="1.3"/>
<line x1="205.97" y1="458.1" x2="205.97" y2="477.2" stroke="#3d3dfa" stroke-width="1.3"/>
<line x1="213.29" y1="453" x2="213.29" y2="477.2" stroke="#3d3dfa" stroke-width="1.3"/>
<line x1="220.6" y1="455" x2="220.6" y2="477.2" stroke="#3d3dfa" stroke-width="1.3"/>
<line x1="227.92" y1="453.6" x2="227.92" y2="477.2" stroke="#3d3dfa" stroke-width="1.3"/>
<line x1="235.23" y1="453.6" x2="235.23" y2="477.2" stroke="#3d3dfa" stroke-width="1.3"/>
<line x1="242.55" y1="469.3" x2="242.55" y2="477.2" stroke="#3d3dfa" stroke-width="1.3"/>
<line x1="249.86" y1="451" x2="249.86" y2="477.2" stroke="#3d3dfa" stroke-width="1.3"/>
<line x1="257.18" y1="454.6" x2="257.18" y2="477.2" stroke="#3d3dfa" stroke-width="1.3"/>
<line x1="264.49" y1="451.4" x2="264.49" y2="477.2" stroke="#3d3dfa" stroke-width="1.3"/>
<line x1="271.81" y1="416.1" x2="271.81" y2="477.2" stroke="#3d3dfa" stroke-width="1.3"/>
<line x1="279.12" y1="424.2" x2="279.12" y2="477.2" stroke="#3d3dfa" stroke-width="1.3"/>
<line x1="286.44" y1="455" x2="286.44" y2="477.2" stroke="#3d3dfa" stroke-width="1.3"/>
<line x1="293.75" y1="408" x2="293.75" y2="477.2" stroke="#3d3dfa" stroke-width="1.3"/>
<line x1="301.06" y1="404.7" x2="301.06" y2="477.2" stroke="#3d3dfa" stroke-width="1.3"/>
<line x1="308.38" y1="433.1" x2="308.38" y2="477.2" stroke="#3d3dfa" stroke-width="1.3"/>
<line x1="315.69" y1="454" x2="315.69" y2="477.2" stroke="#3d3dfa" stroke-width="1.3"/>
<line x1="323.01" y1="450.6" x2="323.01" y2="477.2" stroke="#3d3dfa" stroke-width="1.3"/>
<line x1="330.32" y1="409.4" x2="330.32" y2="477.2" stroke="#3d3dfa" stroke-width="1.3"/>
<line x1="337.64" y1="422.6" x2="337.64" y2="477.2" stroke="#3d3dfa" stroke-width="1.3"/>
<line x1="344.95" y1="438.8" x2="344.95" y2="477.2" stroke="#3d3dfa" stroke-width="1.3"/>
<line x1="352.27" y1="440.4" x2="352.27" y2="477.2" stroke="#3d3dfa" stroke-width="1.3"/>
<line x1="359.58" y1="436.8" x2="359.58" y2="477.2" stroke="#3d3dfa" stroke-width="1.3"/>
<line x1="366.9" y1="448.6" x2="366.9" y2="477.2" stroke="#3d3dfa" stroke-width="1.3"/>
<line x1="374.21" y1="443.9" x2="374.21" y2="477.2" stroke="#3d3dfa" stroke-width="1.3"/>
<line x1="381.53" y1="439.8" x2="381.53" y2="477.2" stroke="#3d3dfa" stroke-width="1.3"/>
<line x1="388.84" y1="443.3" x2="388.84" y2="477.2" stroke="#3d3dfa" stroke-width="1.3"/>
<line x1="396.16" y1="440.9" x2="396.16" y2="477.2" stroke="#3d3dfa" stroke-width="1.3"/>
<line x1="403.48" y1="440.4" x2="403.48" y2="477.2" stroke="#3d3dfa" stroke-width="1.3"/>
<line x1="410.79" y1="430.7" x2="410.79" y2="477.2" stroke="#3d3dfa" stroke-width="1.3"/>
<line x1="418.11" y1="425" x2="418.11" y2="477.2" stroke="#3d3dfa" stroke-width="1.3"/>
<line x1="425.42" y1="432.3" x2="425.42" y2="477.2" stroke="#3d3dfa" stroke-width="1.3"/>
<line x1="432.74" y1="442.9" x2="432.74" y2="477.2" stroke="#3d3dfa" stroke-width="1.3"/>
<line x1="440.05" y1="445.3" x2="440.05" y2="477.2" stroke="#3d3dfa" stroke-width="1.3"/>
<line x1="447.37" y1="434.4" x2="447.37" y2="477.2" stroke="#3d3dfa" stroke-width="1.3"/>
<line x1="454.68" y1="462.2" x2="454.68" y2="477.2" stroke="#3d3dfa" stroke-width="1.3"/>
<line x1="462" y1="452" x2="462" y2="477.2" stroke="#3d3dfa" stroke-width="1.3"/>
<line x1="469.31" y1="451" x2="469.31" y2="477.2" stroke="#3d3dfa" stroke-width="1.3"/>
<line x1="476.62" y1="448" x2="476.62" y2="477.2" stroke="#3d3dfa" stroke-width="1.3"/>
<line x1="483.94" y1="449" x2="483.94" y2="477.2" stroke="#3d3dfa" stroke-width="1.3"/>
<line x1="491.25" y1="452" x2="491.25" y2="477.2" stroke="#3d3dfa" stroke-width="1.3"/>
<line x1="498.57" y1="451.4" x2="498.57" y2="477.2" stroke="#3d3dfa" stroke-width="1.3"/>
<line x1="505.88" y1="449" x2="505.88" y2="477.2" stroke="#3d3dfa" stroke-width="1.3"/>
<line x1="513.2" y1="444.5" x2="513.2" y2="477.2" stroke="#3d3dfa" stroke-width="1.3"/>
<line x1="520.51" y1="440.4" x2="520.51" y2="477.2" stroke="#3d3dfa" stroke-width="1.3"/>
<line x1="527.83" y1="456" x2="527.83" y2="477.2" stroke="#3d3dfa" stroke-width="1.3"/>
<line x1="535.14" y1="451" x2="535.14" y2="477.2" stroke="#3d3dfa" stroke-width="1.3"/>
<line x1="542.46" y1="444.5" x2="542.46" y2="477.2" stroke="#3d3dfa" stroke-width="1.3"/>
<line x1="549.77" y1="439.2" x2="549.77" y2="477.2" stroke="#3d3dfa" stroke-width="1.3"/>
<line x1="557.09" y1="433.8" x2="557.09" y2="477.2" stroke="#3d3dfa" stroke-width="1.3"/>
<line x1="564.4" y1="443.3" x2="564.4" y2="477.2" stroke="#3d3dfa" stroke-width="1.3"/>
<line x1="571.72" y1="454.6" x2="571.72" y2="477.2" stroke="#3d3dfa" stroke-width="1.3"/>
<line x1="579.03" y1="459.5" x2="579.03" y2="477.2" stroke="#3d3dfa" stroke-width="1.3"/>
<line x1="586.35" y1="394.6" x2="586.35" y2="477.2" stroke="#3d3dfa" stroke-width="1.3"/>
<line x1="593.66" y1="428.3" x2="593.66" y2="477.2" stroke="#3d3dfa" stroke-width="1.3"/>
<line x1="600.98" y1="446.5" x2="600.98" y2="477.2" stroke="#3d3dfa" stroke-width="1.3"/>
<line x1="608.29" y1="451" x2="608.29" y2="477.2" stroke="#3d3dfa" stroke-width="1.3"/>
<line x1="615.61" y1="451.4" x2="615.61" y2="477.2" stroke="#3d3dfa" stroke-width="1.3"/>
<line x1="622.92" y1="439.8" x2="622.92" y2="477.2" stroke="#3d3dfa" stroke-width="1.3"/>
<line x1="630.24" y1="441.9" x2="630.24" y2="477.2" stroke="#3d3dfa" stroke-width="1.3"/>
<line x1="637.56" y1="444.9" x2="637.56" y2="477.2" stroke="#3d3dfa" stroke-width="1.3"/>
<line x1="644.87" y1="449.4" x2="644.87" y2="477.2" stroke="#3d3dfa" stroke-width="1.3"/>
<line x1="652.19" y1="449" x2="652.19" y2="477.2" stroke="#3d3dfa" stroke-width="1.3"/>
<polyline points="0,425 9.5,422 24,426 38.5,427.7 52.7,427 67,425 74.5,423 82,425.6 89.5,413.5 103.7,416.4 118.5,413.8 133.5,411.3 140.8,406 155,402.4 162.5,403.3 168.2,398.5 174.2,395.5 177.1,394.6 184.2,390.1 192,390.5 199.4,386.1 206.5,384.5 214.2,387.7 221.8,386.1 228.4,386.5 235.9,388.5 243,387.7 250.8,395.2 258.1,392.2 265.2,393.8 272.3,401.9 279.4,396.2 286.9,394.6 294.6,387.1 301.7,389.1 309.2,393.8 315.9,473.3 323,471.7 330.7,467.6 338.2,466.2 345.1,466.2 352.6,468.2 360.3,464.2 367.4,466.2 374.5,467.2 381.6,463.6 388.7,466.2 396.2,466.8 404,468.2 411,470.3 418.2,470.9 425.5,469.3 433.2,468.2 440.3,470.3 448,470.3 455.1,470.9 462.6,472.3 469.7,473.3 477.2,469.3 483.9,466.2 491.4,465.6 498.7,458.1 506.2,454.6 513.1,453 520.6,443.9 528.3,443.3 536,448 543,446.5 550.2,448 557.8,448.6 564.9,445.9 572.4,450 579.5,452 586.6,452 593.7,451.4 601.2,447 608.3,440.9 616.4,432.7 623.5,434.8 630.6,434.4 638.3,430.7 645.8,433.8" fill="none" stroke="#f53cf5" stroke-width="1.4" stroke-linejoin="round"/>
<text x="5.3" y="389.7" font-size="10.35">VOLUME &amp; OPENINT</text>
<line x1="0" y1="481" x2="812.5" y2="481" stroke="#8a8a8a" stroke-width="1"/>
<line x1="78.4" y1="481" x2="78.4" y2="485" stroke="#555" stroke-width="1"/>
<text transform="translate(78.4,497.2) scale(1.06,1)" x="0" y="0" font-size="10.2" text-anchor="middle">aug</text>
<line x1="148.4" y1="481" x2="148.4" y2="485" stroke="#555" stroke-width="1"/>
<text transform="translate(148.4,497.2) scale(1.06,1)" x="0" y="0" font-size="10.2" text-anchor="middle">14</text>
<line x1="239.9" y1="481" x2="239.9" y2="485" stroke="#555" stroke-width="1"/>
<text transform="translate(239.9,497.2) scale(1.06,1)" x="0" y="0" font-size="10.2" text-anchor="middle">sep</text>
<line x1="312.9" y1="481" x2="312.9" y2="485" stroke="#555" stroke-width="1"/>
<text transform="translate(312.9,497.2) scale(1.06,1)" x="0" y="0" font-size="10.2" text-anchor="middle">14</text>
<line x1="393.5" y1="481" x2="393.5" y2="485" stroke="#555" stroke-width="1"/>
<text transform="translate(393.5,497.2) scale(1.06,1)" x="0" y="0" font-size="10.2" text-anchor="middle">oct</text>
<line x1="462.6" y1="481" x2="462.6" y2="485" stroke="#555" stroke-width="1"/>
<text transform="translate(462.6,497.2) scale(1.06,1)" x="0" y="0" font-size="10.2" text-anchor="middle">14</text>
<line x1="562.3" y1="481" x2="562.3" y2="485" stroke="#555" stroke-width="1"/>
<text transform="translate(562.3,497.2) scale(1.06,1)" x="0" y="0" font-size="10.2" text-anchor="middle">nov</text>
<line x1="631.4" y1="481" x2="631.4" y2="485" stroke="#555" stroke-width="1"/>
<text transform="translate(631.4,497.2) scale(1.06,1)" x="0" y="0" font-size="10.2" text-anchor="middle">14</text>
<line x1="737.6" y1="481" x2="737.6" y2="485" stroke="#555" stroke-width="1"/>
<text transform="translate(737.6,497.2) scale(1.06,1)" x="0" y="0" font-size="10.2" text-anchor="middle">dec</text>
</svg></body></html>
